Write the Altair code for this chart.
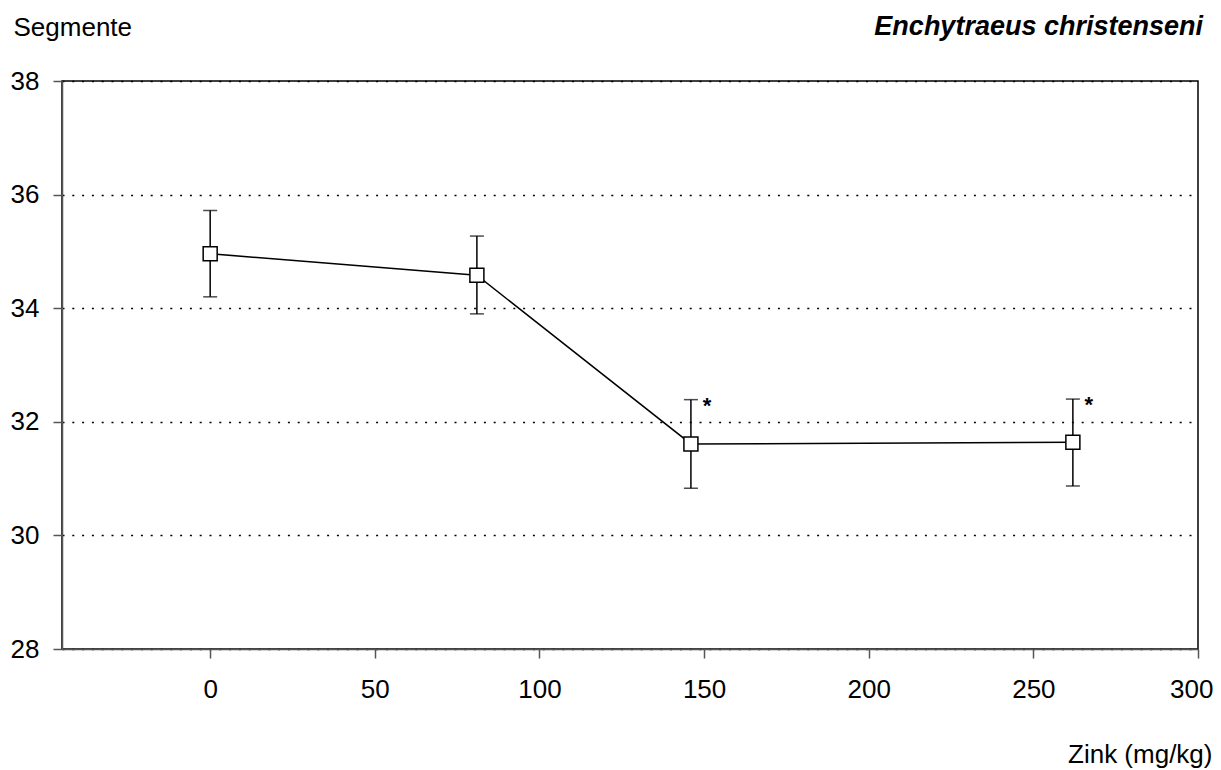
import altair as alt
import pandas as pd

# Data
zinc = [0, 81, 146, 262]
mean_seg = [34.96, 34.58, 31.61, 31.64]
lower = [34.20, 33.90, 30.83, 30.87]
upper = [35.72, 35.27, 32.39, 32.40]
signif = ["", "", "*", "*"]

x_ticks = [0, 50, 100, 150, 200, 250, 300]
y_ticks = [28, 30, 32, 34, 36, 38]

species = ["Enchytraeus christenseni"]

df = pd.DataFrame(dict(zinc=zinc, mean=mean_seg, lo=lower, hi=upper, sig=signif))
title_df = pd.DataFrame(dict(t=species))

W, H = 1136, 568
FONT = "Liberation Sans"

xscale = alt.Scale(domain=[-45, 300], nice=False, zero=False)
yscale = alt.Scale(domain=[28, 38], nice=False, zero=False)

xaxis = alt.Axis(values=x_ticks, title="Zink (mg/kg)", grid=False,
                 tickSize=9, labelPadding=18, titleAlign="right",
                 titleAnchor="end", titleBaseline="alphabetic",
                 titleX=W + 14, titleY=113, labelFlush=True,
                 labelFlushOffset=15)
yaxis = alt.Axis(values=y_ticks, title="Segmente", grid=True,
                 gridColor="black", gridDash=[2, 7.8], gridWidth=1.5,
                 tickSize=9, labelPadding=14, titleAngle=0,
                 titleAlign="left", titleBaseline="alphabetic",
                 titleX=-49, titleY=-46, labelFlush=False)


def X():
    return alt.X("zinc:Q", scale=xscale, axis=xaxis)


def Y(field):
    return alt.Y(field, type="quantitative", scale=yscale, axis=yaxis)


base = alt.Chart(df)

rules = base.mark_rule(color="black", strokeWidth=1.5).encode(
    x=X(), y=Y("lo"), y2="hi")
caps_lo = base.mark_tick(color="black", thickness=1.5, size=14,
                         orient="horizontal").encode(x=X(), y=Y("lo"))
caps_hi = base.mark_tick(color="black", thickness=1.5, size=14,
                         orient="horizontal").encode(x=X(), y=Y("hi"))
line = base.mark_line(color="black", strokeWidth=1.5).encode(
    x=X(), y=Y("mean"))
pts = base.mark_point(shape="square", filled=True, fill="white",
                      stroke="black", strokeWidth=1.5, size=196,
                      opacity=1).encode(x=X(), y=Y("mean"))
stars = base.mark_text(font=FONT, fontSize=22, fontWeight="bold",
                       color="black", dx=16, dy=6, baseline="middle",
                       align="center").encode(
    x=X(), y=Y("hi"), text="sig:N")

species_title = alt.Chart(title_df).mark_text(
    font=FONT, fontSize=27, fontWeight="bold", fontStyle="italic",
    color="black", align="right", baseline="alphabetic"
).encode(x=alt.value(W + 5), y=alt.value(-46), text="t:N")

chart = alt.layer(rules, caps_lo, caps_hi, line, pts, stars,
                  species_title).properties(
    width=W, height=H,
    autosize=alt.AutoSizeParams(type="none"),
    padding={"left": 54, "top": 73, "right": 15, "bottom": 119},
).configure_view(
    stroke="black", strokeWidth=1.5
).configure_axis(
    labelFont=FONT, titleFont=FONT, labelFontSize=26, titleFontSize=26,
    labelColor="black", titleColor="black", titleFontWeight="normal",
    domainColor="#555", tickColor="#555", domainWidth=1.5, tickWidth=1.5
)

chart.save("out.html", embed_options={"renderer": "svg", "actions": False})
